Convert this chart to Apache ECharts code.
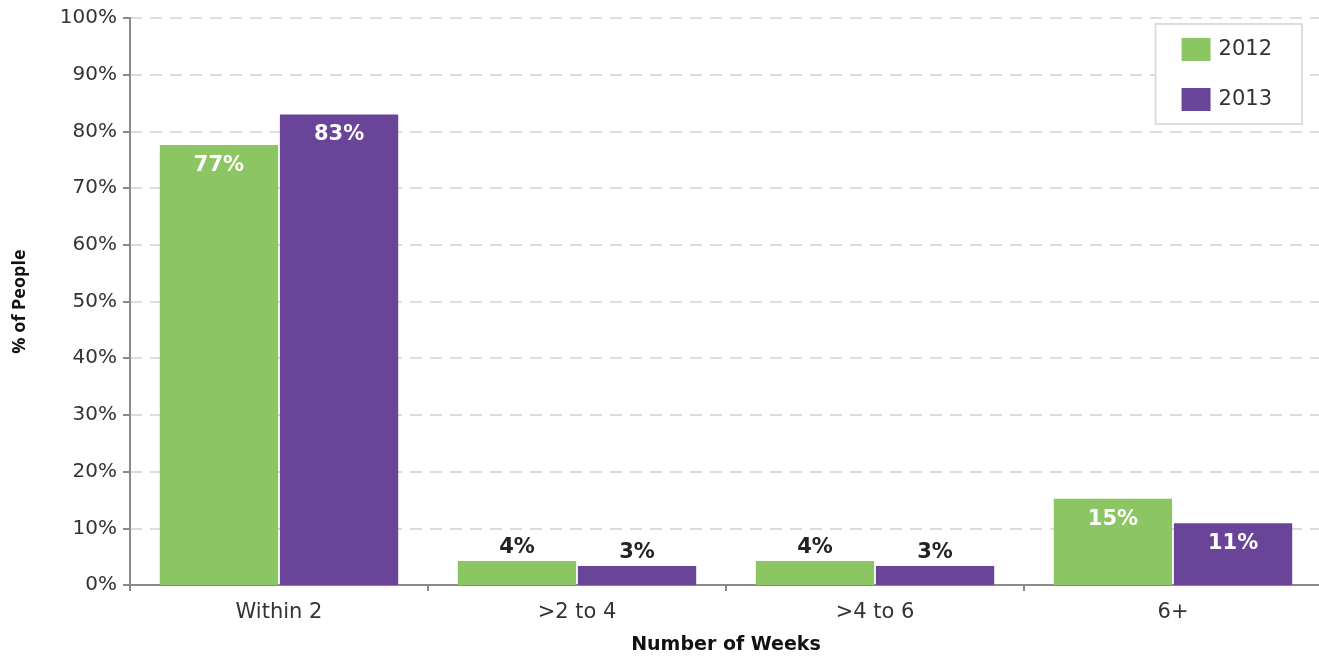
<!DOCTYPE html>
<html>
<head>
<meta charset="utf-8">
<script src="https://cdn.jsdelivr.net/npm/echarts@6/dist/echarts.min.js"></script>
<style>html,body{margin:0;padding:0;background:#fff}#c{width:1319px;height:657px}</style>
</head>
<body>
<div id="c"></div>
<script>
const categories = ['Within 2', '>2 to 4', '>4 to 6', '6+'];
const values2012 = [77.6, 4.25, 4.25, 15.2];
const values2013 = [83.0, 3.35, 3.35, 10.9];
const labels2012 = ['77%', '4%', '4%', '15%'];
const labels2013 = ['83%', '3%', '3%', '11%'];
const seriesNames = ['2012', '2013'];

function makeData(vals, labels) {
  return vals.map((v, i) => {
    const big = v > 8;
    return {
      value: v,
      label: {
        show: true,
        formatter: labels[i],
        position: big ? 'insideTop' : 'top',
        distance: big ? 10 : 3,
        color: big ? '#ffffff' : '#222222',
        fontFamily: 'DejaVu Sans',
        fontWeight: 'bold',
        fontSize: 21
      }
    };
  });
}

const chart = echarts.init(document.getElementById('c'));
chart.setOption({
  animation: false,
  grid: { left: 130, right: -3, top: 18, bottom: 72, outerBoundsMode: 'none' },
  legend: {
    orient: 'vertical',
    right: 17,
    top: 24,
    icon: 'rect',
    itemWidth: 29,
    itemHeight: 23,
    itemGap: 27,
    padding: [14, 30, 13, 26],
    borderColor: '#dddddd',
    borderWidth: 2,
    backgroundColor: '#ffffff',
    textStyle: { fontFamily: 'DejaVu Sans', fontSize: 21, color: '#333333', padding: [0, 0, 0, 3] },
    data: seriesNames
  },
  xAxis: {
    type: 'category',
    data: categories,
    name: 'Number of Weeks',
    nameLocation: 'middle',
    nameGap: 51,
    nameTextStyle: { fontFamily: 'DejaVu Sans', fontWeight: 'bold', fontSize: 19, color: '#111111' },
    axisLine: { lineStyle: { color: '#8a8a8a', width: 2 } },
    axisTick: { show: true, length: 6, lineStyle: { color: '#8a8a8a', width: 2 } },
    axisLabel: { fontFamily: 'DejaVu Sans', fontSize: 21, color: '#333333', margin: 17 }
  },
  yAxis: {
    type: 'value',
    min: 0,
    max: 100,
    interval: 10,
    name: '% of People',
    nameLocation: 'middle',
    nameGap: 101,
    nameTextStyle: { fontFamily: 'Open Sans', fontWeight: 'bold', fontSize: 18, color: '#111111' },
    axisLine: { show: true, lineStyle: { color: '#8a8a8a', width: 2 } },
    axisTick: { show: true, length: 7, lineStyle: { color: '#8a8a8a', width: 2 } },
    axisLabel: { formatter: '{value}%', fontFamily: 'DejaVu Sans', fontSize: 20, color: '#333333', margin: 13 },
    splitLine: { lineStyle: { color: '#dddddd', width: 2, type: [12, 8] } }
  },
  series: [
    {
      name: seriesNames[0],
      type: 'bar',
      data: makeData(values2012, labels2012),
      itemStyle: { color: '#8bc663' },
      barGap: '1.5%',
      barCategoryGap: '20%'
    },
    {
      name: seriesNames[1],
      type: 'bar',
      data: makeData(values2013, labels2013),
      itemStyle: { color: '#6a4499' },
      barGap: '1.5%',
      barCategoryGap: '20%'
    }
  ]
});
</script>
</body>
</html>
